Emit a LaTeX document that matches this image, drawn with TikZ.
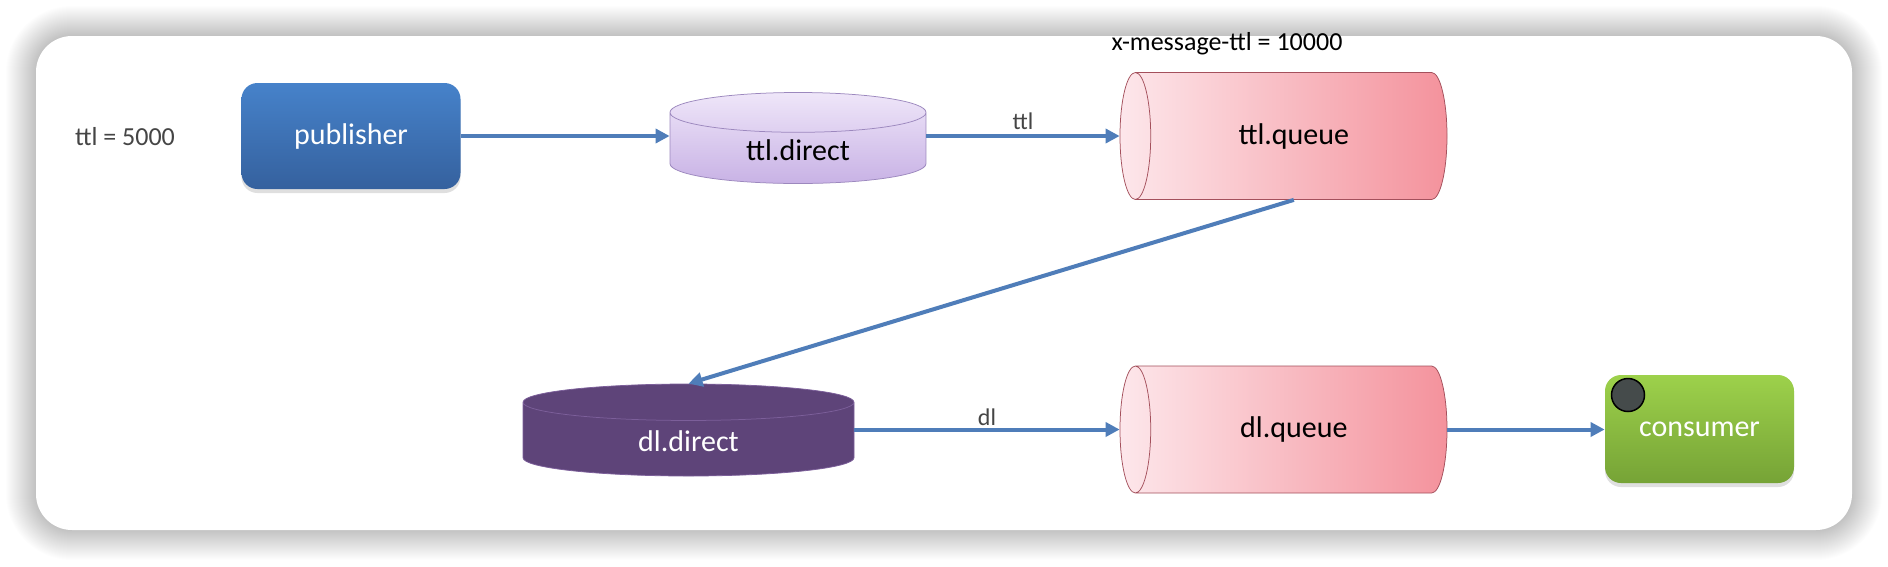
\documentclass[tikz,border=0pt]{standalone}
\usepackage{fontspec}
\setmainfont{Carlito}
\usetikzlibrary{shapes.geometric,arrows.meta,shadows}

\definecolor{flowblue}{HTML}{4F7DB9}
\definecolor{labelgray}{HTML}{454545}
\definecolor{pubtop}{HTML}{4682CA}
\definecolor{pubbottom}{HTML}{35619E}
\definecolor{xchtop}{HTML}{EFE6F9}
\definecolor{xchbottom}{HTML}{C8B2E5}
\definecolor{xchedge}{HTML}{9C88BE}
\definecolor{queueleft}{HTML}{FDE7EB}
\definecolor{queueright}{HTML}{F4929C}
\definecolor{queueedge}{HTML}{A4505C}
\definecolor{dlpurple}{HTML}{5E4479}
\definecolor{dledge}{HTML}{7C5F9A}
\definecolor{contop}{HTML}{9DD14B}
\definecolor{conbottom}{HTML}{76A336}
\definecolor{badgegray}{HTML}{454B4B}

\tikzset{every picture/.style={line width=0.75pt}}
\tikzset{
  bigtext/.style={font=\fontsize{30}{36}\selectfont},
  notetext/.style={font=\fontsize{26}{31}\selectfont, inner sep=0.75pt},
  flowlabel/.style={font=\fontsize{24}{28}\selectfont, text=labelgray, inner sep=0.75pt},
  flow/.style={draw=flowblue, line width=4pt, -{Triangle[length=14pt,width=14pt]}},
  pubbox/.style={bigtext, rectangle, rounded corners=16pt, minimum width=219pt, minimum height=106pt,
    top color=pubtop, bottom color=pubbottom, draw=none, text=white,
    drop shadow={opacity=0.25, shadow xshift=0pt, shadow yshift=-4pt}},
  conbox/.style={bigtext, rectangle, rounded corners=16pt, minimum width=189pt, minimum height=108pt,
    top color=contop, bottom color=conbottom, draw=none, text=white,
    drop shadow={opacity=0.25, shadow xshift=0pt, shadow yshift=-4pt}},
  xchbox/.style={bigtext, cylinder, shape border rotate=90, aspect=0.36,
    draw=xchedge, top color=xchtop, bottom color=xchbottom, minimum width=256pt, minimum height=91pt},
  dlbox/.style={bigtext, cylinder, shape border rotate=90, aspect=0.34, text=white,
    draw=dledge, fill=dlpurple, minimum width=331pt, minimum height=92pt},
  queuebox/.style={bigtext, cylinder, shape border rotate=180, aspect=0.95,
    draw=queueedge, left color=queueleft, right color=queueright, minimum width=127pt, minimum height=327pt},
}

\begin{document}
\begin{tikzpicture}[x=1pt,y=1pt,yscale=-1,xscale=1]
\useasboundingbox (0,0) rectangle (1888,566);
\fill[white] (0,0) rectangle (1888,566);

% card with soft shadow
\foreach \s in {1,...,30}
  \fill[black, opacity=0.006, rounded corners={(36+\s)*1pt}] (36-\s,36-\s) rectangle (1852+\s,530+\s);
\fill[white, rounded corners=36pt] (36,36) rectangle (1852,530);

% top row
\node[notetext, text=labelgray] (ttlnote) at (125,137) {ttl = 5000};
\node[pubbox] (publisher) at (351,136) {publisher};
\node[xchbox, anchor=shape center] (ttldirect) at (798,138) {ttl.direct};
\node[queuebox, anchor=shape center] (ttlqueue) at (1283.5,136) {ttl.queue};
\node[notetext] (msgttl) at (1227,44) {x-message-ttl = 10000};

% bottom row
\node[dlbox, anchor=shape center] (dldirect) at (688.5,430) {dl.direct};
\node[queuebox, anchor=shape center] (dlqueue) at (1283.5,429.5) {dl.queue};
\node[conbox] (consumer) at (1699.5,429) {consumer};
\node[circle, draw=black, line width=1.5pt, fill=badgegray, minimum size=33pt, inner sep=0pt] (cbadge) at (1628,395) {};

% connectors
\draw[flow] (publisher.east) -- (publisher.east -| ttldirect.west);
\draw[flow] (ttldirect.east |- ttlqueue.west) -- node[flowlabel, above=4pt] (ttllabel) {ttl} (ttlqueue.west);
\draw[flow] (ttlqueue.south) -- (dldirect.north);
\draw[flow] (dldirect.east |- dlqueue.west) -- node[flowlabel, above=1pt] (dllabel) {dl} (dlqueue.west);
\draw[flow] (dlqueue.east) -- (dlqueue.east -| consumer.west);

\end{tikzpicture}
\end{document}
